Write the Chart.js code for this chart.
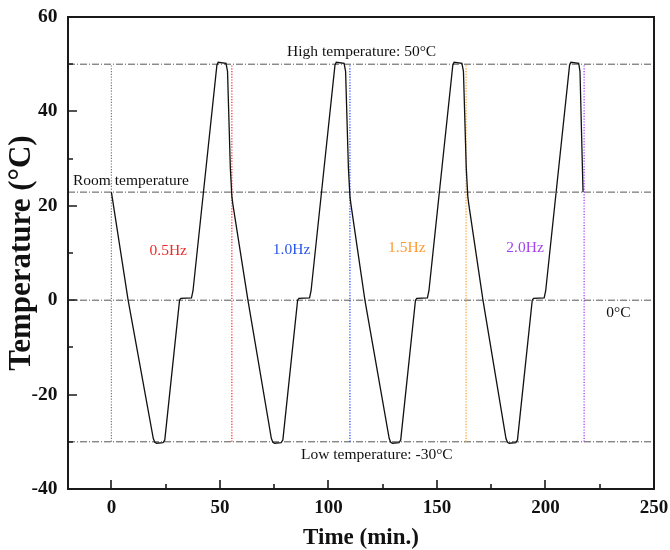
<!DOCTYPE html>
<html>
<head>
<meta charset="utf-8">
<script src="https://cdn.jsdelivr.net/npm/chart.js@4.4.1/dist/chart.umd.min.js"></script>
<style>
  body { margin: 0; background: #fff; }
</style>
</head>
<body>
<canvas id="tempChart" width="670" height="550"></canvas>
<script>
// temperature profile (min, °C)
const timeMin = [
  0, 7.7, 19.3, 20.0, 20.8, 23.8, 24.6, 31.4, 32.0, 36.9, 37.6, 48.6, 49.2, 52.8, 53.5, 54.8, 55.5, 56.0,
  62.9, 73.7, 74.4, 75.2, 78.2, 79.0, 85.8, 86.4, 91.3, 92.0, 103.0, 103.6, 107.2, 107.9, 109.2, 109.9, 110.4,
  116.8, 128.0, 128.7, 129.5, 132.5, 133.3, 140.1, 140.7, 145.6, 146.3, 157.3, 157.9, 161.5, 162.2, 163.5, 164.2, 164.7,
  171.2, 181.8, 182.5, 183.3, 186.3, 187.1, 193.9, 194.5, 199.4, 200.1, 211.1, 211.7, 215.3, 215.9, 217.3
];
const tempC = [
  22.9, 0, -29.3, -30.1, -30.3, -30.2, -29.6, 0, 0.4, 0.5, 2, 49.8, 50.4, 50.2, 48.5, 28, 22, 20.2,
  0, -29.3, -30.1, -30.3, -30.2, -29.6, 0, 0.4, 0.5, 2, 49.8, 50.4, 50.2, 48.5, 28, 22, 20.2,
  0, -29.3, -30.1, -30.3, -30.2, -29.6, 0, 0.4, 0.5, 2, 49.8, 50.4, 50.2, 48.5, 28, 22, 20.2,
  0, -29.3, -30.1, -30.3, -30.2, -29.6, 0, 0.4, 0.5, 2, 49.8, 50.4, 50.2, 48.5, 22.9
];

const levelTemps = [50, 22.9, 0, -30];
const markerTimes = [0, 55.5, 109.9, 163.4, 217.8];
const markerColors = ['#7a7a7a', '#ff2020', '#2040ff', '#ff9a20', '#a030f0'];

const freqLabels = ['0.5Hz', '1.0Hz', '1.5Hz', '2.0Hz'];
const freqColors = ['#ee2a2a', '#2a55ee', '#ff9a30', '#a444ee'];

const xTicks = [0, 50, 100, 150, 200, 250];
const xMinor = [25, 75, 125, 175, 225];
const yTicks = [-40, -20, 0, 20, 40, 60];
const yMinor = [-30, -10, 10, 30, 50];

const serif = '"Liberation Serif", "Times New Roman", serif';

// text notes, placed in data units
const notes = [
  { text: 'High temperature: 50°C', x: 115.3, y: 52.5, align: 'center', color: '#111' },
  { text: 'Room temperature', x: -17.7, y: 25.2, align: 'left', color: '#111' },
  { text: '0°C', x: 233.6, y: -2.7, align: 'center', color: '#111' },
  { text: 'Low temperature: -30°C', x: 122.3, y: -32.7, align: 'center', color: '#111' },
  { text: freqLabels[0], x: 26.2, y: 10.5, align: 'center', color: freqColors[0] },
  { text: freqLabels[1], x: 83.0, y: 10.6, align: 'center', color: freqColors[1] },
  { text: freqLabels[2], x: 136.1, y: 11.1, align: 'center', color: freqColors[2] },
  { text: freqLabels[3], x: 190.6, y: 11.1, align: 'center', color: freqColors[3] }
];

const datasets = [{
  data: timeMin.map((t, i) => ({ x: t, y: tempC[i] })),
  borderColor: '#111',
  borderWidth: 1.3,
  pointRadius: 0,
  order: 0
}];
levelTemps.forEach(v => datasets.push({
  data: [{ x: -20, y: v }, { x: 250, y: v }],
  borderColor: '#555',
  borderWidth: 1,
  borderDash: [7, 2, 1, 2],
  pointRadius: 0,
  order: 2
}));
markerTimes.forEach((t, i) => datasets.push({
  data: [{ x: t, y: -30 }, { x: t, y: 50 }],
  borderColor: markerColors[i],
  borderWidth: 1.2,
  borderDash: [1.2, 1.6],
  pointRadius: 0,
  order: 1
}));

const frameAndNotes = {
  id: 'frameAndNotes',
  afterDatasetsDraw(chart) {
    const { ctx, chartArea: a, scales: { x, y } } = chart;
    ctx.save();
    ctx.strokeStyle = '#1a1a1a';
    ctx.lineWidth = 2;
    ctx.strokeRect(a.left, a.top, a.right - a.left, a.bottom - a.top);

    ctx.lineWidth = 1.6;
    ctx.beginPath();
    const tickX = (vals, len) => vals.forEach(v => {
      const px = Math.round(x.getPixelForValue(v));
      ctx.moveTo(px, a.bottom); ctx.lineTo(px, a.bottom - len);
    });
    const tickY = (vals, len) => vals.forEach(v => {
      const py = Math.round(y.getPixelForValue(v));
      ctx.moveTo(a.left, py); ctx.lineTo(a.left + len, py);
    });
    tickX(xTicks, 9); tickX(xMinor, 5);
    tickY(yTicks, 9); tickY(yMinor, 5);
    ctx.stroke();

    ctx.font = '15.5px ' + serif;
    ctx.textBaseline = 'middle';
    notes.forEach(n => {
      ctx.fillStyle = n.color;
      ctx.textAlign = n.align;
      ctx.fillText(n.text, x.getPixelForValue(n.x), y.getPixelForValue(n.y));
    });
    ctx.restore();
  }
};

new Chart(document.getElementById('tempChart'), {
  type: 'scatter',
  data: { datasets },
  options: {
    responsive: false,
    animation: false,
    showLine: true,
    layout: { padding: { top: 17, right: 16, left: 0, bottom: 0 } },
    plugins: { legend: { display: false }, tooltip: { enabled: false } },
    scales: {
      x: {
        type: 'linear',
        min: -20,
        max: 250,
        afterBuildTicks: s => { s.ticks = xTicks.map(v => ({ value: v })); },
        afterFit: s => { s.height = 61; s.paddingLeft = 0; s.paddingRight = 0; },
        grid: { display: false, drawTicks: false },
        border: { display: false },
        ticks: { padding: 8, color: '#111', font: { family: serif, size: 19, weight: 'bold' } },
        title: {
          display: true,
          text: 'Time (min.)',
          color: '#111',
          padding: { top: 0, bottom: 0 },
          font: { family: serif, size: 23, weight: 'bold', lineHeight: 1 }
        }
      },
      y: {
        min: -40,
        max: 60,
        afterBuildTicks: s => { s.ticks = yTicks.map(v => ({ value: v })); },
        afterFit: s => { s.width = 68; s.paddingTop = 0; s.paddingBottom = 0; },
        grid: { display: false, drawTicks: false },
        border: { display: false },
        ticks: { padding: 10.5, color: '#111', font: { family: serif, size: 19.5, weight: 'bold' } },
        title: {
          display: true,
          text: 'Temperature (°C)',
          color: '#111',
          padding: { top: 6, bottom: 0 },
          font: { family: serif, size: 31, weight: 'bold', lineHeight: 1 }
        }
      }
    }
  },
  plugins: [frameAndNotes]
});
</script>
</body>
</html>
